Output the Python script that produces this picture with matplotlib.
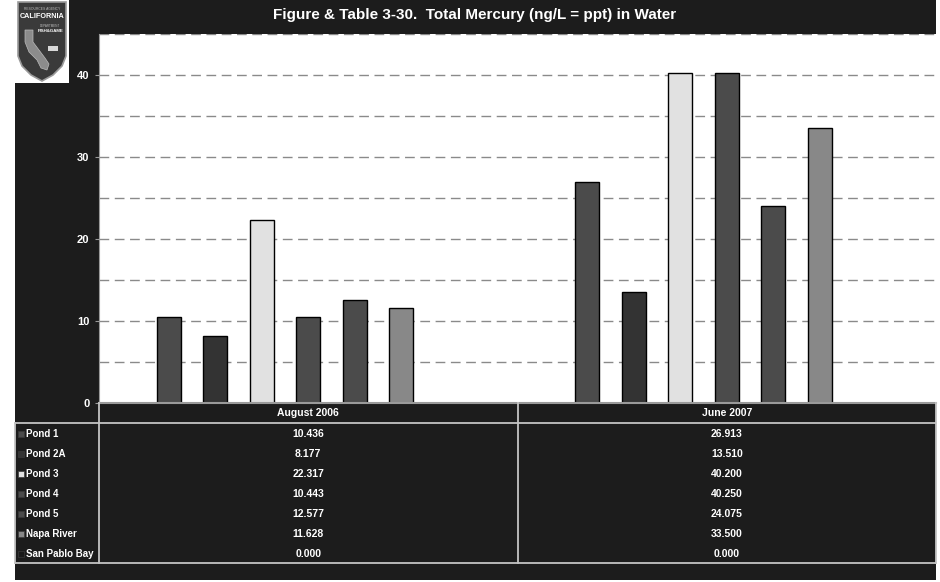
import matplotlib
matplotlib.use("Agg")
import matplotlib.pyplot as plt
import numpy as np
from matplotlib.patches import Rectangle, Polygon

periods = ["August 2006", "June 2007"]
sites = ["Pond 1", "Pond 2A", "Pond 3", "Pond 4", "Pond 5", "Napa River", "San Pablo Bay"]
aug_2006 = [10.436, 8.177, 22.317, 10.443, 12.577, 11.628, 0.000]
jun_2007 = [26.913, 13.510, 40.200, 40.250, 24.075, 33.500, 0.000]
site_colors = ["#4b4b4b", "#333333", "#e1e1e1", "#4b4b4b", "#4b4b4b", "#888888", "#1a1a1a"]
title = "Figure & Table 3-30.  Total Mercury (ng/L = ppt) in Water"

W, H = 940, 582
BG = "#1c1c1c"
LINE = "#c4c4c4"
plt.rcParams["font.family"] = ["Liberation Sans", "DejaVu Sans"]


def fig_box(x0, y0, x1, y1):
    # pixel box (top-left origin) -> figure fraction [left, bottom, width, height]
    return [x0 / W, 1 - y1 / H, (x1 - x0) / W, (y1 - y0) / H]


fig = plt.figure(figsize=(W / 100, H / 100), dpi=100, facecolor="white")
fig.patches.append(Rectangle((15 / W, 1 - 580 / H), 921 / W, 580 / H,
                             transform=fig.transFigure, facecolor=BG, edgecolor="none", zorder=-10))

fig.text(0.505, 1 - 15 / H, title, color="white", fontsize=11, fontweight="bold",
         ha="center", va="center")

# ---- chart ----
ax = fig.add_axes(fig_box(99, 34, 936, 403), facecolor="white")
values = np.array([aug_2006, jun_2007])
x = np.arange(len(periods))
step = 0.111
width = 0.0574
for i, site in enumerate(sites):
    ax.bar(x + (i - 3) * step, values[:, i], width=width, color=site_colors[i],
           edgecolor="black", linewidth=1.0, zorder=2)

ax.set_xlim(-0.5, 1.5)
ax.set_ylim(0, 45)
ax.set_yticks([0, 10, 20, 30, 40])
ax.set_yticks(np.arange(5, 46, 5), minor=True)
ax.yaxis.grid(True, which="both", color="#8a8a8a", linestyle=(0, (7, 4)), linewidth=1.0, zorder=1)
ax.set_xticks([])
ax.tick_params(axis="y", which="major", colors="#9a9a9a", labelcolor="white",
               labelsize=8, length=3, pad=4)
ax.tick_params(axis="y", which="minor", length=0)
for lab in ax.get_yticklabels():
    lab.set_fontweight("bold")
for side in ["top", "right"]:
    ax.spines[side].set_visible(False)
ax.spines["left"].set_color("#9a9a9a")
ax.spines["bottom"].set_color("#9a9a9a")
ax.spines["bottom"].set_linewidth(1.5)

# ---- data table ----
tab = fig.add_axes(fig_box(99, 403, 936, 563), facecolor=BG)
n_rows = len(sites) + 1
tab.set_xlim(-0.5, 1.5)
tab.set_ylim(n_rows, 0)
tab.axis("off")
label_left = -84 / 837
yt = tab.get_yaxis_transform()

txt = dict(color="white", fontsize=7.5, fontweight="bold", va="center")
for j, period in enumerate(periods):
    tab.text(x[j], 0.5, period, ha="center", **txt)
for i, site in enumerate(sites):
    row = i + 1.55
    for j in range(len(periods)):
        tab.text(x[j], row, "%.3f" % values[j, i], ha="center", **txt)
    tab.text(label_left + 11 / 837, row, site, ha="left", transform=yt,
             color="white", fontsize=7, fontweight="bold", va="center")
    tab.add_patch(Rectangle((label_left + 3 / 837, row - 0.15), 6 / 837, 0.3,
                            transform=yt, facecolor=site_colors[i],
                            edgecolor="#3a3a3a", linewidth=0.5, clip_on=False))

lkw = dict(color=LINE, linewidth=1.3, clip_on=False)
tab.plot([label_left, 1], [1, 1], transform=yt, **lkw)
tab.plot([label_left, 1], [n_rows, n_rows], transform=yt, **lkw)
tab.plot([label_left, label_left], [1, n_rows], transform=yt, **lkw)
for xv in [-0.5, 0.5, 1.5]:
    tab.plot([xv, xv], [0, n_rows], **lkw)

# ---- logo ----
logo = fig.add_axes(fig_box(15, 0, 69, 83), facecolor="white")
logo.set_xlim(0, 54)
logo.set_ylim(83, 0)
logo.set_xticks([])
logo.set_yticks([])
for sp in logo.spines.values():
    sp.set_visible(False)
shield = [(3, 2), (51, 2), (51, 56), (47, 66), (38, 75), (27, 81), (16, 75), (7, 66), (3, 56)]
logo.add_patch(Polygon(shield, closed=True, facecolor="#3a3a3a", edgecolor="#9a9a9a", linewidth=1.2))
state = [(10, 30), (18, 30), (18, 42), (30, 58), (34, 64), (32, 70), (26, 68), (22, 60),
         (14, 52), (10, 42)]
logo.add_patch(Polygon(state, closed=True, facecolor="#8c8c8c", edgecolor="#bbbbbb", linewidth=0.5))
logo.add_patch(Rectangle((33, 46), 10, 5, facecolor="#d8d8d8", edgecolor="none"))
logo.text(27, 9, "RESOURCES AGENCY", color="#bbbbbb", fontsize=2.4, ha="center", va="center")
logo.text(27, 17, "CALIFORNIA", color="white", fontsize=5.2, fontweight="bold", ha="center", va="center")
logo.text(35, 26, "DEPARTMENT", color="#bbbbbb", fontsize=2.2, ha="center", va="center")
logo.text(36, 31, "FISH&GAME", color="white", fontsize=3.2, fontweight="bold", ha="center", va="center")

fig.savefig("out.png", dpi=100, facecolor=fig.get_facecolor())
